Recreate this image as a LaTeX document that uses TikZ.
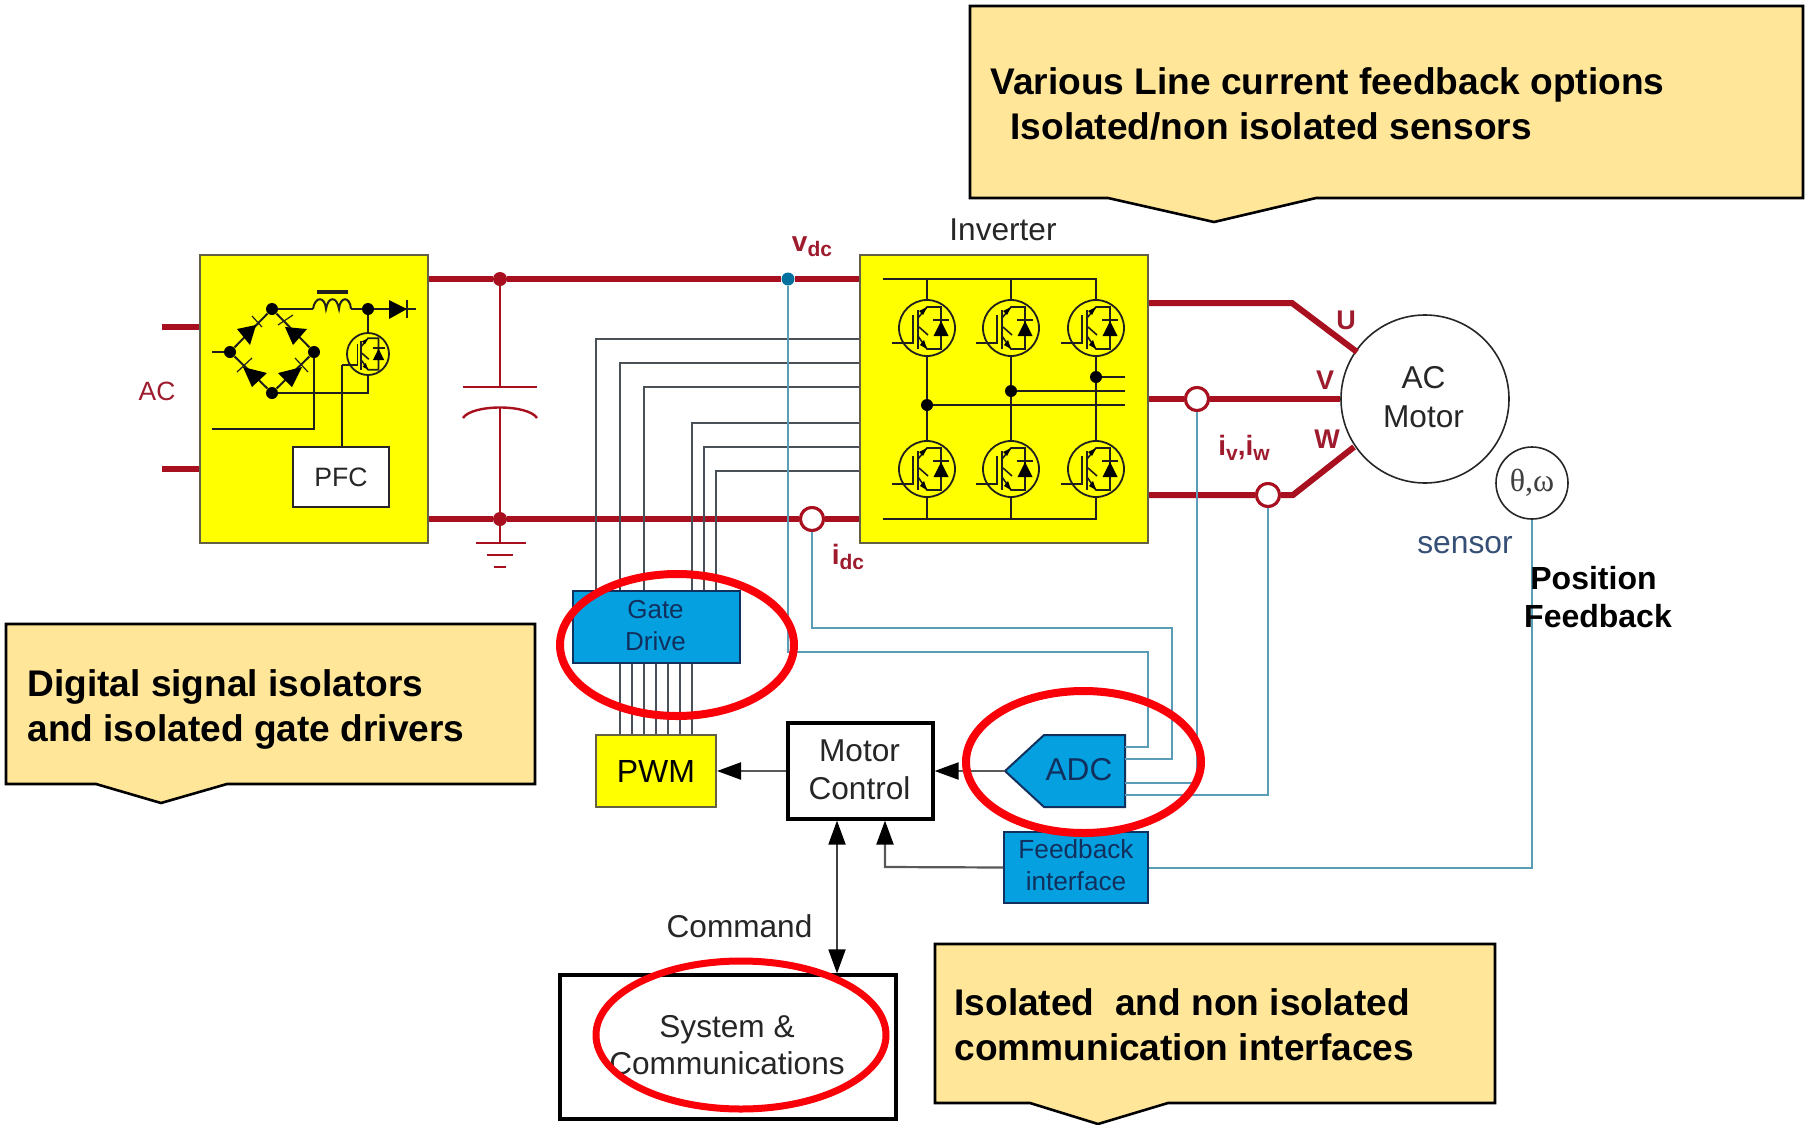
\documentclass[tikz,border=0pt]{standalone}
\usepackage{fontspec}
\setmainfont{Liberation Sans}
\newfontfamily\serifgr{Liberation Serif}
\usetikzlibrary{arrows.meta,calc}
\definecolor{railred}{HTML}{A8101F}
\definecolor{labred}{HTML}{9E1B2E}
\definecolor{panelyellow}{HTML}{FFFF00}
\definecolor{driveblue}{HTML}{04A0E0}
\definecolor{sigblue}{HTML}{5A9DB8}
\definecolor{gateline}{HTML}{4A5058}
\definecolor{inkblue}{HTML}{12305E}
\definecolor{calloutfill}{HTML}{FFE699}
\definecolor{markred}{HTML}{FA0008}
\newcommand{\fsz}[2]{\fontsize{#1pt}{#2pt}\selectfont}
\newcommand{\subs}[1]{\raisebox{-2.5pt}{\fsz{10.5}{11}#1}}
\tikzset{
  panel/.style={draw=black!70!yellow,line width=1pt,fill=panelyellow,inner sep=0pt},
  bluebox/.style={draw=inkblue,line width=1pt,fill=driveblue,inner sep=0pt,text=inkblue},
  plainbox/.style={draw=black,line width=1.6pt,fill=white,inner sep=0pt,text=black!85},
  rail/.style={draw=railred,line width=3pt},
  railthin/.style={draw=railred,line width=1.2pt},
  sensing/.style={draw=sigblue,line width=1pt},
  gatewire/.style={draw=gateline,line width=1pt},
  ink/.style={draw=black!88,line width=1pt},
  flow/.style={draw=black!65,line width=1.1pt,-{Triangle[length=12pt,width=8.5pt,black]}},
  ctsensor/.style={circle,draw=railred,line width=1.5pt,fill=white,minimum size=11.5pt,inner sep=0pt},
  jdot/.style={circle,fill=black,minimum size=6pt,inner sep=0pt},
  rdot/.style={circle,fill=railred,minimum size=7pt,inner sep=0pt},
  igbtring/.style={circle,draw=black!88,line width=.9pt,inner sep=0pt},
  callout/.style={draw=black,line width=1.3pt,fill=calloutfill},
  callouttext/.style={anchor=west,align=left,inner sep=0pt,font=\bfseries\fsz{18.55}{22.5},text=black},
  lab/.style={inner sep=0pt,text=black!85},
  boxlab/.style={inner sep=0pt,align=center},
  redlab/.style={inner sep=0pt,text=labred,font=\bfseries\fsz{13.5}{14}},
  redring/.style={draw=markred,line width=4pt},
}
% IGBT internals: centre x, centre y, scale
\newcommand{\igbtin}[3]{%
  \begin{scope}[shift={(#1,#2)},scale=#3]
    \draw[ink,line width=.8pt] (-35,15) -- (-14,15) -- (-14,-13);
    \draw[ink,line width=1pt] (-9,-18) -- (-9,21);
    \draw[ink,line width=.8pt] (-9,-10) -- (0,-21) -- (14,-21) -- (14,21) -- (0,21) -- (-9,8);
    \draw[ink,line width=.8pt] (-8,-1) -- (1,7);
    \fill[black] (14,-7) -- (21.5,8) -- (6.5,8) -- cycle;
    \draw[ink,line width=.8pt] (6,-8) -- (22,-8);
    \fill[black] (0,21) -- (-7,17) -- (-3,12) -- cycle;
    \fill[black] (0,-21) -- (-8,-17) -- (-4,-13) -- cycle;
  \end{scope}}
\begin{document}
\begin{tikzpicture}[x=0.5pt,y=-0.5pt]
\useasboundingbox (0,0) rectangle (1806,1125);
\fill[white] (0,0) rectangle (1806,1125);

% ---- main blocks
\node[panel,minimum width=114pt,minimum height=144pt] (psu) at (314,399) {};
\node[panel,minimum width=144pt,minimum height=144pt] (inv) at (1004,399) {};
\node[lab,font=\fsz{15.8}{19}] (invlab) at (1003,230) {Inverter};
\node[lab,font=\fsz{13.2}{15},text=labred] (aclab) at (157,391) {AC};

% ---- junctions and sensors on the DC link
\node[rdot] (j1) at (500,279) {};
\node[rdot] (j2) at (500,519) {};
\coordinate (cpa) at (500,387);
\coordinate (cpb) at (500,408);
\coordinate (gnd) at (500,543);
\node[circle,fill=driveblue!70!black,minimum size=6.5pt,inner sep=0pt] (vd) at (788,279) {};
\node[ctsensor] (si) at (812,519) {};
\node[ctsensor] (sv) at (1197,399) {};
\node[ctsensor] (sw) at (1268,495) {};

% ---- motor
\node[circle,draw=black!85,line width=.8pt,fill=white,minimum size=84pt,inner sep=0pt] (mot) at (1425,399) {};
\node[boxlab,font=\fsz{15.8}{19.5},text=black!85] (mottxt) at (1423.5,397) {AC\\Motor};
\node[circle,draw=black!85,line width=.8pt,fill=white,minimum size=36pt,inner sep=0pt,font=\serifgr\fsz{16}{18},text=black!75] (enc) at (1532,483) {θ,ω};

% ---- rails
\coordinate (ac1) at (162,327);
\coordinate (ac2) at (162,469);
\draw[rail] (ac1) -- (ac1 -| psu.west);
\draw[rail] (ac2) -- (ac2 -| psu.west);
\draw[rail] (psu.east |- j1) -- (j1) -- (vd) -- (inv.west |- j1);
\draw[rail] (psu.east |- j2) -- (j2) -- (si) -- (inv.west |- j2);
\coordinate (ubend) at (1292,303);
\coordinate (wbend) at (1293,495);
\coordinate (uend) at (1357,352);
\coordinate (wend) at (1354,447);
\draw[rail] (inv.east |- ubend) -- (ubend) -- (uend);
\draw[rail] (inv.east |- sv) -- (sv) -- (mot.west);
\draw[rail] (inv.east |- sw) -- (sw) -- (wbend) -- (wend);
\node[ctsensor] at (si) {};
\node[ctsensor] at (sv) {};
\node[ctsensor] at (sw) {};

% ---- capacitor and ground
\draw[railthin] (j1) -- (cpa);
\draw[railthin] (cpb) -- (j2);
\draw[railthin] (j2) -- (gnd);
\draw[railthin] (463,387) -- (537,387);
\draw[railthin] (463,418) .. controls (472,404) and (528,404) .. (537,418);
\draw[railthin] (476,543) -- (526,543);
\draw[railthin] (487,555) -- (513,555);
\draw[railthin] (494,567) -- (506,567);

% ---- lower blocks
\node[bluebox,minimum width=83.5pt,minimum height=36pt] (gd) at (656,627) {};
\node[boxlab,text=inkblue,font=\fsz{13}{16}] (gdtxt) at (655.5,626) {Gate\\Drive};
\node[panel,minimum width=60pt,minimum height=36pt,font=\fsz{16}{18}] (pwm) at (656,771) {PWM};
\node[plainbox,minimum width=72.5pt,minimum height=48pt] (mc) at (860.5,771) {};
\node[boxlab,text=black!85,font=\fsz{15.8}{19}] (mctxt) at (859.5,769.5) {Motor\\Control};
\node[bluebox,minimum width=72pt,minimum height=35.5pt] (fb) at (1076,867.5) {};
\node[boxlab,text=inkblue,font=\fsz{13.1}{16}] (fbtxt) at (1076,865.5) {Feedback\\interface};
\node[plainbox,minimum width=168pt,minimum height=72pt] (sys) at (728,1047) {};
\node[boxlab,text=black!85,font=\fsz{15.8}{18.7}] (systxt) at (727,1045) {System \&\\Communications};
\draw[bluebox] (1005,771) -- (1044,735) -- (1125,735) -- (1125,807) -- (1044,807) -- cycle;
\node[lab,text=inkblue,font=\fsz{15.8}{18}] (adc) at (1079,770) {ADC};
\coordinate (adctip) at (1005,771);
\coordinate (ap1) at (1125,747);
\coordinate (ap2) at (1125,759);
\coordinate (ap3) at (1125,783);
\coordinate (ap4) at (1125,795);

% ---- gate wires
\foreach \i/\x/\y in {1/596/339,2/620/363,3/644/387,4/692/423,5/704/447,6/716/471}{
  \coordinate (g\i) at (\x,\y);
  \draw[gatewire] (inv.west |- g\i) -- (g\i) -- (gd.north -| g\i);
}
\foreach \i/\x in {1/620,2/632,3/644,4/656,5/668,6/680,7/692}{
  \coordinate (w\i) at (\x,700);
  \draw[gatewire] (gd.south -| w\i) -- (pwm.north -| w\i);
}

% ---- sensing wires
\coordinate (s1a) at (788,652);
\coordinate (s1b) at (1148,652);
\coordinate (s2a) at (812,628);
\coordinate (s2b) at (1172,628);
\draw[sensing] (vd) -- (s1a) -- (s1b) -- (s1b |- ap1) -- (ap1);
\draw[sensing] (si) -- (s2a) -- (s2b) -- (s2b |- ap2) -- (ap2);
\draw[sensing] (sv) -- (sv |- ap3) -- (ap3);
\draw[sensing] (sw) -- (sw |- ap4) -- (ap4);
\draw[sensing] (fb.east) -- (fb.east -| enc) -- (enc.south);

% ---- control arrows
\draw[flow] (adctip) -- (mc.east |- adctip);
\draw[flow] (mc.west) -- (pwm.east);
\coordinate (fbx) at (885,867);
\draw[flow] (fb.west) -- (fbx) -- (mc.south -| fbx);
\coordinate (cmdx) at (837,900);
\draw[draw=black!75,line width=.9pt,{Triangle[length=12pt,width=8.5pt,black]}-{Triangle[length=12pt,width=8.5pt,black]}] (mc.south -| cmdx) -- (sys.north -| cmdx);

% ---- rectifier panel
\node[jdot] (bt) at (272,309) {};
\node[jdot] (bl) at (230,352) {};
\node[jdot] (br) at (314,352) {};
\node[jdot] (bb) at (272,393) {};
\node[jdot] (dn) at (368,309) {};
\node[igbtring,minimum size=21pt] (q0) at (368,354) {};
\node[draw=black!85,line width=1pt,fill=white,minimum width=48pt,minimum height=30pt,inner sep=0pt,font=\fsz{13.3}{15},text=black!85] (pfc) at (341,477) {PFC};
\igbtin{368}{354}{.75}
\coordinate (gt0) at (342,365);
\coordinate (lst) at (212,352);
\coordinate (lsb) at (212,429);
\coordinate (ind1) at (313,309);
\coordinate (ind2) at (351,309);
\coordinate (dout) at (416,309);
\draw[ink] (bt) -- (bl) -- (bb) -- (br) -- (bt);
\draw[ink] (lst) -- (bl);
\draw[ink] (br) -- (br |- lsb) -- (lsb);
\draw[ink] (bt) -- (ind1);
\draw[ink] (313,309) .. controls (315,296) and (325,296) .. (326,309)
           .. controls (328,296) and (337,296) .. (339,309)
           .. controls (340,296) and (350,296) .. (351,309);
\draw[ink,line width=1.8pt] (317,292) -- (348,292);
\draw[ink] (ind2) -- (dn) -- (dout);
\fill[black] (389,300) -- (407,309) -- (389,319) -- cycle;
\draw[ink] (407,300) -- (407,318);
\draw[ink] (dn) -- (q0.north);
\draw[ink] (q0.south) -- (q0.south |- bb) -- (bb);
\draw[ink] (pfc.north -| gt0) -- (gt0);
\fill[black] (237,329) -- (256,325) -- (250,345) -- cycle;
\fill[black] (285,327) -- (307,329) -- (293,345) -- cycle;
\fill[black] (243,367) -- (267,373) -- (252,387) -- cycle;
\fill[black] (302,367) -- (278,373) -- (292,387) -- cycle;
\draw[ink,line width=.6pt] (252,316) -- (262,327);
\draw[ink,line width=.6pt] (278,325) -- (293,315);
\draw[ink,line width=.6pt] (237,372) -- (252,358);
\draw[ink,line width=.6pt] (295,358) -- (308,372);

% ---- inverter panel
\coordinate (tbusl) at (883,279);
\coordinate (bbusl) at (883,519);
\foreach \n/\x/\y in {q1/927/328,q2/1011/328,q3/1096/328,q4/927/469,q5/1011/469,q6/1096/469}{
  \node[igbtring,minimum size=28pt] (\n) at (\x,\y) {};
  \igbtin{\x}{\y}{1}
}
\draw[ink] (tbusl) -- (tbusl -| q3) -- (q3.north);
\draw[ink] (q1 |- tbusl) -- (q1.north);
\draw[ink] (q2 |- tbusl) -- (q2.north);
\draw[ink] (bbusl) -- (bbusl -| q6) -- (q6.south);
\draw[ink] (q4 |- bbusl) -- (q4.south);
\draw[ink] (q5 |- bbusl) -- (q5.south);
\draw[ink] (q1.south) -- (q4.north);
\draw[ink] (q2.south) -- (q5.north);
\draw[ink] (q3.south) -- (q6.north);
\node[jdot] (pu) at (927,405) {};
\node[jdot] (pv) at (1011,391) {};
\node[jdot] (pw) at (1096,377) {};
\coordinate (tail) at (1125,400);
\draw[ink] (pu) -- (pu -| tail);
\draw[ink] (pv) -- (pv -| tail);
\draw[ink] (pw) -- (pw -| tail);

% ---- labels
\node[redlab] (uu) at (1346,320) {U};
\node[redlab] (vv) at (1325,380) {V};
\node[redlab] (ww) at (1327,439) {W};
\node[redlab,font=\bfseries\fsz{14}{15}] (vdc) at (812,247) {v\subs{dc}};
\node[redlab,font=\bfseries\fsz{14}{15}] (idc) at (848,557) {i\subs{dc}};
\node[redlab,font=\bfseries\fsz{14}{15}] (iv) at (1244,448) {i\subs{v},i\subs{w}};
\node[lab,text=inkblue!85,font=\fsz{15.9}{18}] (snsr) at (1465,545) {sensor};
\node[lab,text=black,align=center,font=\bfseries\fsz{16}{19}] (pf) at (1598,597) {Position\hspace*{4.5pt}\\Feedback};
\node[lab,font=\fsz{15.8}{18}] (cmd) at (739.5,926) {Command};

% ---- callouts
\draw[callout] (970,6) -- (1803,6) -- (1803,198) -- (1316,198) -- (1214,222) -- (1108,198) -- (970,198) -- cycle;
\node[callouttext] (c1) at (990,104) {Various Line current feedback options\\\hspace*{10pt}Isolated/non isolated sensors};
\draw[callout] (6,624) -- (535,624) -- (535,784) -- (227,784) -- (161,803) -- (96,784) -- (6,784) -- cycle;
\node[callouttext] (c2) at (27,709) {Digital signal isolators\\and isolated gate drivers};
\draw[callout] (935,944) -- (1495,944) -- (1495,1103) -- (1168,1103) -- (1098,1124) -- (1030,1103) -- (935,1103) -- cycle;
\node[callouttext] (c3) at (954,1025) {Isolated\ \ and non isolated\\communication interfaces};

% ---- red rings
\draw[redring] (677,645) ellipse [x radius=117,y radius=71];
\draw[redring] (1083.5,762) ellipse [x radius=117.5,y radius=71];
\draw[redring,line width=3.5pt] (741,1035) ellipse [x radius=145,y radius=74];
\end{tikzpicture}
\end{document}
